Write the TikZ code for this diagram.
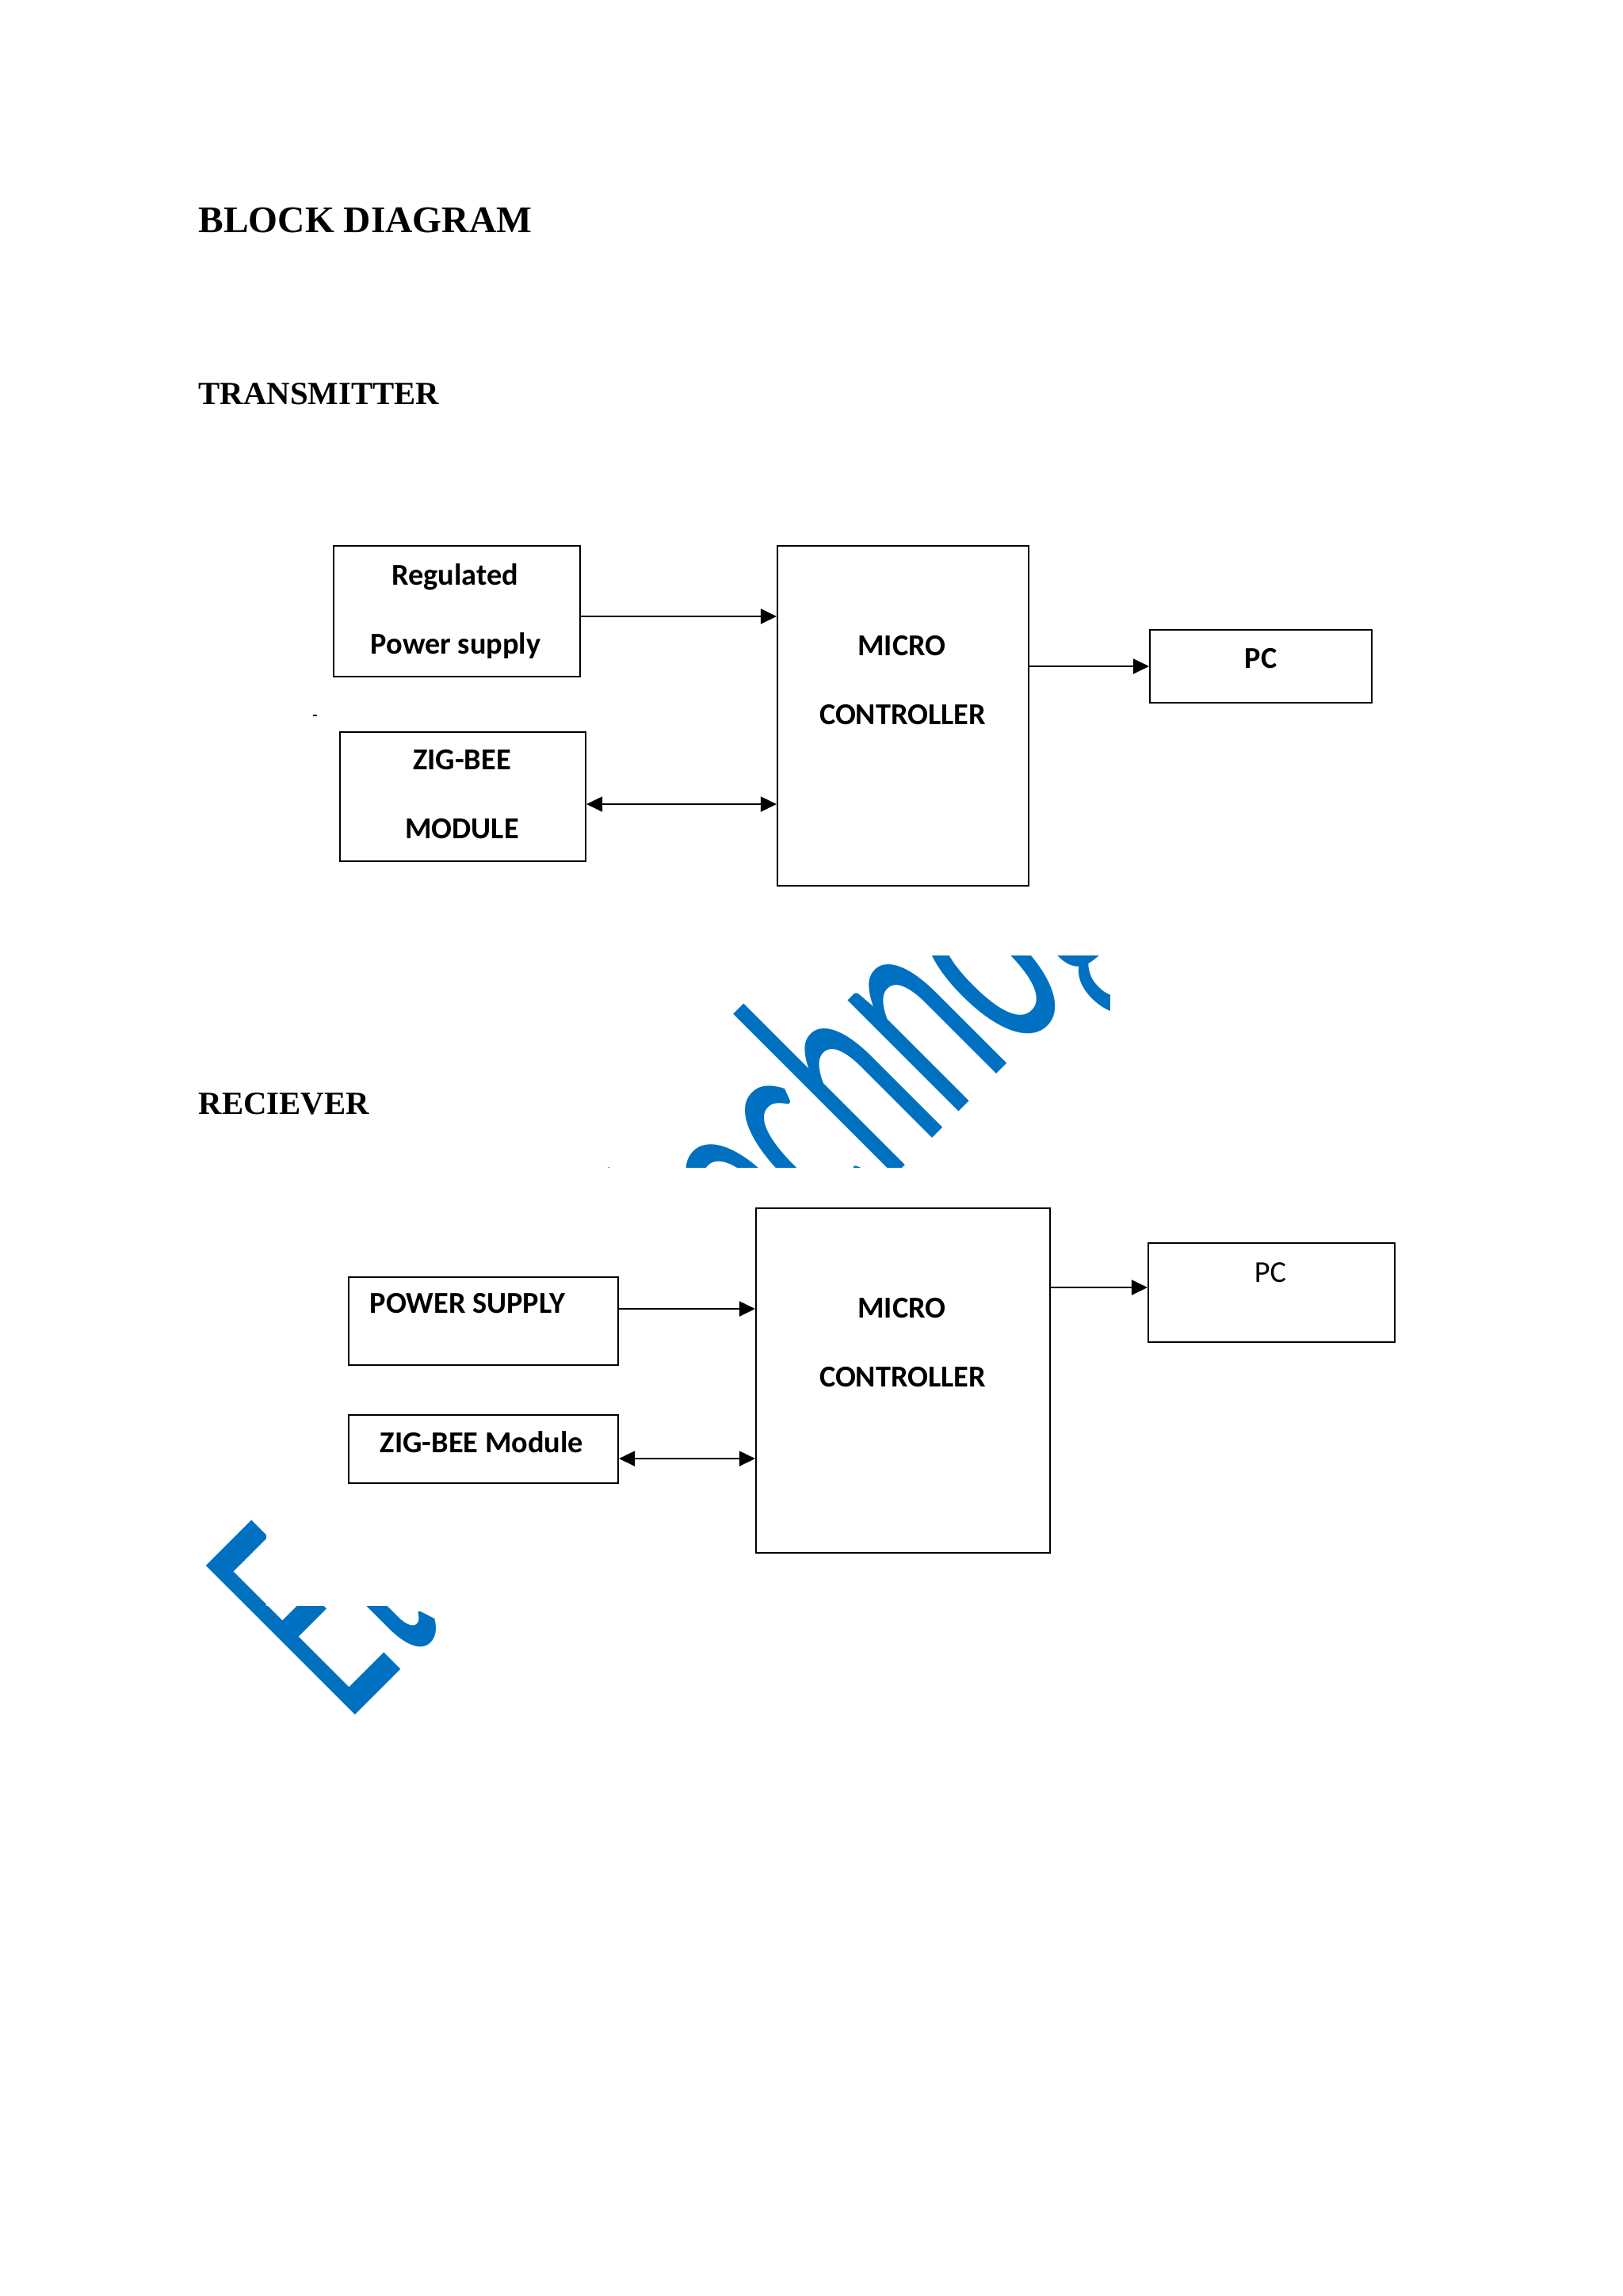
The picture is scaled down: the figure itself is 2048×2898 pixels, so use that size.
\documentclass[tikz,border=0pt]{standalone}
\usepackage{fontspec}
\setmainfont{Liberation Serif}
\newfontfamily\calibri{Carlito}
\usepackage{graphicx}
\usetikzlibrary{arrows.meta}
\definecolor{wmblue}{RGB}{0,112,192}

\begin{document}
\begin{tikzpicture}[
    x=0.1mm, y=-0.1mm,
    heading/.style={anchor=base west, inner sep=0pt, font=\bfseries\fontsize{11.6}{14}\selectfont},
    blockbox/.style={draw, line width=0.6pt, inner sep=0pt},
    blocktxt/.style={anchor=base, inner sep=0pt, font=\calibri\bfseries\fontsize{10.9}{13}\selectfont},
    link/.style={-{Triangle[length=2mm, width=1.9mm]}, line width=0.55pt},
    duplex/.style={{Triangle[length=2mm, width=1.9mm]}-{Triangle[length=2mm, width=1.9mm]}, line width=0.55pt},
    wmark/.style={anchor=base west, inner sep=0pt, rotate=45, text=wmblue, font=\calibri\fontsize{118}{118}\selectfont}
]

    \path[fill=white, use as bounding box] (0,0) rectangle (2048,2898);

    % --- Watermark (only partly visible) ---
    \begin{scope}
        \clip (700,1206) rectangle (1400,1473);
        \node[wmark] (wm_mid) at (927,1686) {\scalebox{0.523}[1]{technog}};
    \end{scope}
    \begin{scope}
        \clip (150,1850) rectangle (335,2300) (150,2027) rectangle (620,2300);
        \node[wmark] (wm_left) at (437,2176) {\scalebox{0.523}[1]{Et}};
    \end{scope}

    % --- Headings ---
    \node[heading, font=\bfseries\fontsize{13.5}{16}\selectfont] (title) at (250,293) {BLOCK DIAGRAM};
    \node[heading] (txhead) at (250,510) {TRANSMITTER};
    \node[heading] (rxhead) at (250,1406) {RECIEVER};

    % --- Transmitter ---
    \node[blockbox, minimum width=31.1mm, minimum height=16.5mm] (tx_psu) at (576.5,771.5) {};
    \node[blockbox, minimum width=31.0mm, minimum height=16.3mm] (tx_zb) at (584,1005.5) {};
    \node[blockbox, minimum width=31.7mm, minimum height=42.9mm] (tx_mcu) at (1139.5,903.5) {};
    \node[blockbox, minimum width=28.0mm, minimum height=9.2mm] (tx_pc) at (1591,841) {};

    \node[blocktxt] (tx_psu_l1) at (574,738) {Regulated};
    \node[blocktxt] (tx_psu_l2) at (575,825) {Power supply};
    \node[blocktxt] (tx_zb_l1) at (583,971) {ZIG-BEE};
    \node[blocktxt] (tx_zb_l2) at (583,1058) {MODULE};
    \node[blocktxt] (tx_mcu_l1) at (1138,827) {MICRO};
    \node[blocktxt] (tx_mcu_l2) at (1139,914) {CONTROLLER};
    \node[blocktxt] (tx_pc_l) at (1591,843) {PC};

    \coordinate (tx_a) at ([yshift=-0.65mm]tx_psu.east);
    \coordinate (tx_b) at ([yshift=-0.95mm]tx_zb.east);
    \draw[link] (tx_a) -- (tx_a -| tx_mcu.west);
    \draw[duplex] (tx_b) -- (tx_b -| tx_mcu.west);
    \draw[link] (tx_pc.west -| tx_mcu.east) -- (tx_pc.west);

    \draw[line width=0.6pt] (395,903) -- (400,903);

    % --- Receiver ---
    \node[blockbox, minimum width=34.0mm, minimum height=11.1mm] (rx_psu) at (610,1667.5) {};
    \node[blockbox, minimum width=34.0mm, minimum height=8.6mm] (rx_zb) at (610,1829) {};
    \node[blockbox, minimum width=37.1mm, minimum height=43.5mm] (rx_mcu) at (1139.5,1742.5) {};
    \node[blockbox, minimum width=31.1mm, minimum height=12.5mm] (rx_pc) at (1604.5,1631.5) {};

    \node[blocktxt] (rx_psu_l) at (590,1657) {POWER SUPPLY};
    \node[blocktxt] (rx_zb_l) at (608,1833) {ZIG-BEE Module};
    \node[blocktxt] (rx_mcu_l1) at (1138,1663) {MICRO};
    \node[blocktxt] (rx_mcu_l2) at (1139,1750) {CONTROLLER};
    \node[blocktxt, font=\calibri\fontsize{10.9}{13}\selectfont] (rx_pc_l) at (1603,1618) {PC};

    \coordinate (rx_a) at ([yshift=1.55mm]rx_psu.east);
    \coordinate (rx_b) at ([yshift=-1.2mm]rx_zb.east);
    \coordinate (rx_c) at ([yshift=0.65mm]rx_pc.west);
    \draw[link] (rx_a) -- (rx_a -| rx_mcu.west);
    \draw[duplex] (rx_b) -- (rx_b -| rx_mcu.west);
    \draw[link] (rx_c -| rx_mcu.east) -- (rx_c);

\end{tikzpicture}
\end{document}
